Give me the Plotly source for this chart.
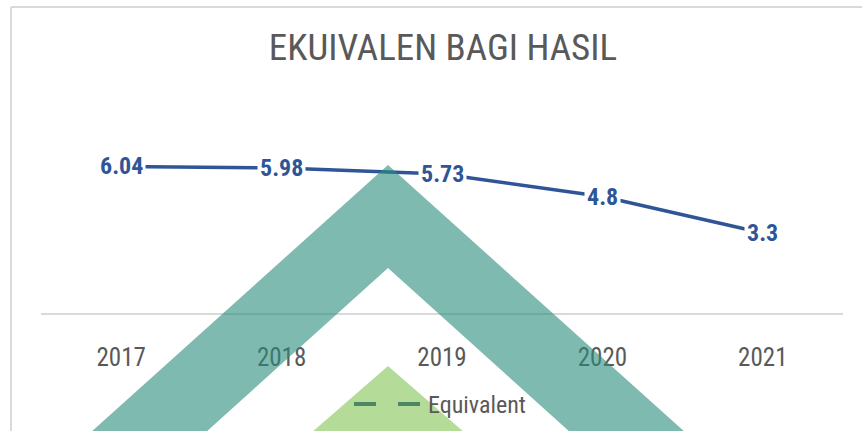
import plotly.graph_objects as go

years = ["2017", "2018", "2019", "2020", "2021"]
values = [6.04, 5.98, 5.73, 4.8, 3.3]
labels = ["6.04", "5.98", "5.73", "4.8", "3.3"]
series_name = "Equivalent"
title_text = "EKUIVALEN BAGI HASIL"

W, H = 862, 431
ML, MR, MT, MB = 41, 19, 131, 118
PW, PH = W - ML - MR, H - MT - MB
FONT = "Liberation Sans Narrow, Roboto Condensed, Arial Narrow, sans-serif"
LINE_COLOR = "#2F5597"


def px(x):
    return (x - ML) / PW


def py(y):
    return (H - MB - y) / PH


def path(points):
    return "M " + " L ".join(f"{px(a):.5f},{py(b):.5f}" for a, b in points) + " Z"


fig = go.Figure()
fig.add_trace(go.Scatter(
    x=years, y=values, mode="lines", name=series_name,
    line=dict(color=LINE_COLOR, width=3.5), showlegend=False,
))

for i, (v, t) in enumerate(zip(values, labels)):
    fig.add_annotation(
        x=i, y=v, xref="x", yref="y", text=f"<b>{t}</b>", showarrow=False,
        font=dict(family=FONT, size=24, color=LINE_COLOR),
        bgcolor="white", borderpad=2,
    )

# legend (drawn manually to match the long dashed key)
fig.add_annotation(
    xref="paper", yref="paper", x=px(426), y=py(405), xanchor="left", yanchor="middle",
    text=series_name, showarrow=False,
    font=dict(family=FONT, size=24, color="#595959"),
)

shapes = [
    # chart area border
    dict(type="line", xref="paper", yref="paper", x0=px(11), y0=py(7), x1=px(870), y1=py(7),
         line=dict(color="#D9D9D9", width=2), layer="below"),
    dict(type="line", xref="paper", yref="paper", x0=px(11), y0=py(7), x1=px(11), y1=py(440),
         line=dict(color="#D9D9D9", width=2), layer="below"),
    # legend key
    dict(type="line", xref="paper", yref="paper", x0=px(354), y0=py(404), x1=px(421), y1=py(404),
         line=dict(color=LINE_COLOR, width=4, dash="22px,22px"), layer="below"),
    # watermark
    dict(type="path", xref="paper", yref="paper",
         path=path([(90, 433), (388, 165), (686, 433), (571, 433), (388, 268), (205, 433)]),
         fillcolor="rgba(42,140,125,0.6)", line=dict(width=0), layer="above"),
    dict(type="path", xref="paper", yref="paper",
         path=path([(388, 366), (311, 433), (465, 433)]),
         fillcolor="rgba(107,183,49,0.5)", line=dict(width=0), layer="above"),
]

fig.update_layout(
    width=W, height=H,
    margin=dict(l=ML, r=MR, t=MT, b=MB, autoexpand=False),
    paper_bgcolor="white", plot_bgcolor="white",
    title=dict(text=title_text, xref="container", yref="container",
               x=443 / W, y=1 - 47 / H, xanchor="center", yanchor="middle",
               font=dict(family=FONT, size=37, color="#595959")),
    xaxis=dict(type="category", range=[-0.5, 4.5], showgrid=False, zeroline=False,
               showline=True, linecolor="#D9D9D9", linewidth=2, ticks="",
               tickfont=dict(family=FONT, size=25, color="#595959"),
               ticklabelstandoff=21, fixedrange=True),
    yaxis=dict(range=[0, 7.5], visible=False, fixedrange=True),
    shapes=shapes,
    showlegend=False,
)

fig.write_html("out.html", config={"displayModeBar": False},
               post_script="document.body.style.margin='0';document.body.style.overflow='hidden';")
